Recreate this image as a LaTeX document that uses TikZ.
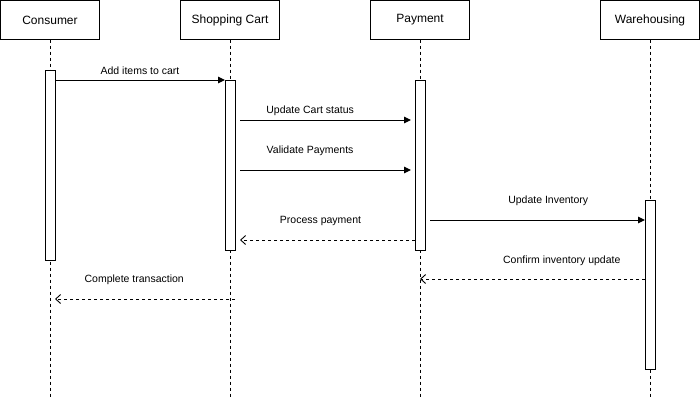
\documentclass[tikz,border=0pt]{standalone}
\usepackage{fontspec}
\setmainfont{Liberation Sans}
\usetikzlibrary{arrows.meta, positioning}

\begin{document}
\begin{tikzpicture}[
    x=1pt, y=-1pt,
    actor/.style={draw, line width=0.8pt, minimum width=99pt, minimum height=39pt, inner sep=0pt, outer sep=0pt, font=\fontsize{12}{14}\selectfont},
    life/.style={draw, line width=0.8pt, dash pattern=on 3pt off 3pt},
    bar/.style={draw, line width=0.8pt, fill=white, minimum width=10pt, inner sep=0pt, outer sep=0pt, anchor=north},
    call/.style={-{Triangle[length=7pt,width=6.5pt]}, line width=1pt},
    reply/.style={-{Straight Barb[length=5pt,width=9pt]}, line width=0.9pt, dash pattern=on 3.5pt off 2.5pt},
    lbl/.style={font=\fontsize{10.5}{12}\selectfont, text height=7.5pt, text depth=2pt, inner sep=0pt},
]
\useasboundingbox (0,0) rectangle (700,400);

% participants
\node[actor] (consumer) at (50,20) {Consumer};
\node[actor, right=81pt of consumer] (cart) {Shopping Cart};
\node[actor, right=91pt of cart] (payment) {Payment};
\node[actor, right=131pt of payment] (store) {Warehousing};

\foreach \p in {consumer, cart, payment, store} {
    \draw[life] (\p.south) -- ++(0,358);
}

% activation bars
\node[bar, minimum height=190pt] (actC) at (consumer |- 0,70) {};
\node[bar, minimum height=170pt] (actS) at (cart |- 0,80) {};
\node[bar, minimum height=170pt] (actP) at (payment |- 0,80) {};
\node[bar, minimum height=169pt] (actW) at (store |- 0,200) {};

% messages
\draw[call] (actC.east |- 0,80) -- (actS.west |- 0,80)
    node[lbl, pos=0.5, yshift=8.5pt] (m1) {Add items to cart};
\draw[call] ([xshift=5pt]actS.east |- 0,120) -- ([xshift=-4pt]actP.west |- 0,120)
    node[lbl, pos=0.41, yshift=9.5pt] (m2) {Update Cart status};
\draw[call] ([xshift=5pt]actS.east |- 0,170) -- ([xshift=-4pt]actP.west |- 0,170)
    node[lbl, pos=0.41, yshift=19.5pt] (m3) {Validate Payments};
\draw[call] ([xshift=5pt]actP.east |- 0,220) -- (actW.west |- 0,220)
    node[lbl, pos=0.55, yshift=19pt] (m4) {Update Inventory};
\draw[reply] (actP.west |- 0,240) -- ([xshift=5pt]actS.east |- 0,240)
    node[lbl, pos=0.54, yshift=19.5pt] (m5) {Process payment};
\draw[reply] (actW.west |- 0,279) -- (payment |- 0,279)
    node[lbl, pos=0.37, yshift=18.5pt] (m6) {Confirm inventory update};
\draw[reply] (actS.east |- 0,299) -- (actC.east |- 0,299)
    node[lbl, pos=0.56, yshift=19pt] (m7) {Complete transaction};

\end{tikzpicture}
\end{document}
